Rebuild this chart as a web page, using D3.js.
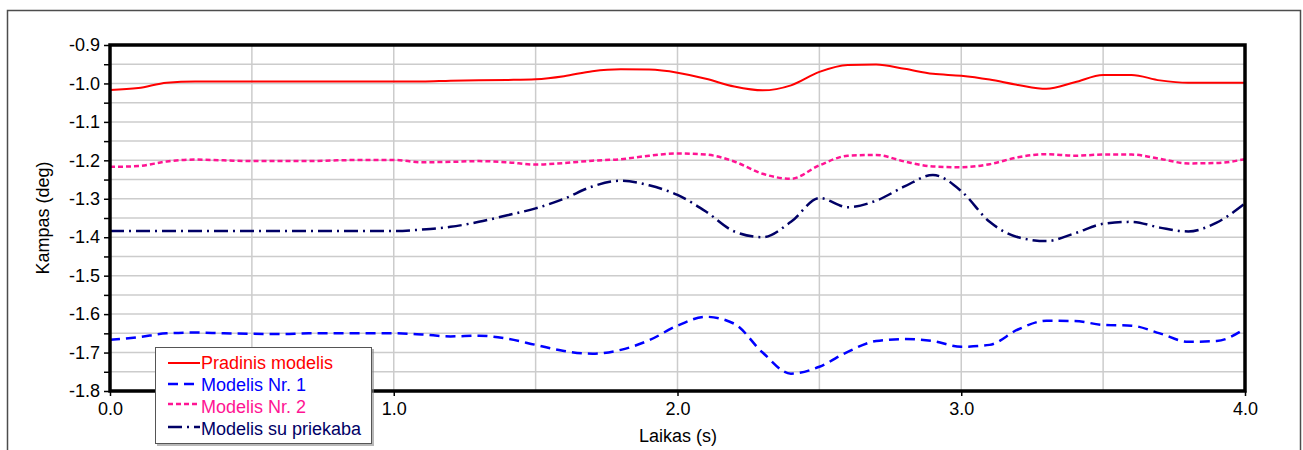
<!DOCTYPE html>
<html>
<head>
<meta charset="utf-8">
<script src="https://cdn.jsdelivr.net/npm/d3@7"></script>
<style>
  html, body { margin: 0; padding: 0; background: #fff; }
  svg { display: block; font-family: "Liberation Sans", Arial, sans-serif; }
</style>
</head>
<body>
<svg id="chart" width="1303" height="450"></svg>
<script>
// Sample times (s)
const times = d3.range(0, 41).map(i => +(i * 0.1).toFixed(1));

// Heading angle per model (deg)
const pradinis = [-1.017, -1.012, -0.998, -0.995, -0.995, -0.995, -0.995, -0.995, -0.995, -0.995,
  -0.995, -0.995, -0.993, -0.992, -0.991, -0.989, -0.981, -0.968, -0.963, -0.964,
  -0.972, -0.988, -1.008, -1.018, -1.005, -0.970, -0.952, -0.951, -0.962, -0.975,
  -0.980, -0.990, -1.004, -1.014, -0.997, -0.978, -0.978, -0.992, -0.998, -0.998, -0.998];

const modelis1 = [-1.667, -1.660, -1.650, -1.648, -1.650, -1.651, -1.652, -1.650, -1.650, -1.650,
  -1.650, -1.653, -1.658, -1.656, -1.664, -1.680, -1.696, -1.703, -1.693, -1.668,
  -1.630, -1.607, -1.625, -1.700, -1.755, -1.737, -1.698, -1.670, -1.665, -1.670,
  -1.685, -1.680, -1.640, -1.617, -1.618, -1.628, -1.630, -1.650, -1.672, -1.670, -1.638];

const modelis2 = [-1.217, -1.215, -1.203, -1.198, -1.200, -1.202, -1.202, -1.202, -1.200, -1.199,
  -1.199, -1.205, -1.204, -1.202, -1.205, -1.211, -1.207, -1.201, -1.197, -1.188,
  -1.182, -1.185, -1.203, -1.235, -1.248, -1.213, -1.188, -1.186, -1.203, -1.216,
  -1.218, -1.210, -1.192, -1.184, -1.188, -1.185, -1.185, -1.196, -1.208, -1.207, -1.197];

const suPriekaba = [-1.384, -1.384, -1.384, -1.384, -1.384, -1.384, -1.384, -1.384, -1.384, -1.384,
  -1.384, -1.380, -1.373, -1.360, -1.343, -1.325, -1.300, -1.268, -1.253, -1.265,
  -1.290, -1.333, -1.385, -1.400, -1.360, -1.298, -1.322, -1.305, -1.268, -1.238,
  -1.280, -1.360, -1.400, -1.410, -1.390, -1.365, -1.360, -1.375, -1.385, -1.362, -1.312];

const seriesNames = ["Pradinis modelis", "Modelis Nr. 1", "Modelis Nr. 2", "Modelis su priekaba"];
const yTicks = [-0.9, -1.0, -1.1, -1.2, -1.3, -1.4, -1.5, -1.6, -1.7, -1.8];
const xTicks = [0.0, 1.0, 2.0, 3.0, 4.0];

const series = [
  { name: seriesNames[0], values: pradinis,   color: "#ff0000", dash: null,       width: 2 },
  { name: seriesNames[1], values: modelis1,   color: "#0000ff", dash: "10,6",     width: 2.5 },
  { name: seriesNames[2], values: modelis2,   color: "#ff1493", dash: "5,3",      width: 2.5 },
  { name: seriesNames[3], values: suPriekaba, color: "#000066", dash: "14,5,2,5", width: 2.5 }
];

const FONT = 18;
const svg = d3.select("#chart");
const plotL = 110, plotR = 1245, plotT = 45, plotB = 391;

// Outer frame
svg.append("rect")
  .attr("x", 7.5).attr("y", 10.5).attr("width", 1293).attr("height", 460)
  .attr("fill", "none").attr("stroke", "#4d4d4d").attr("stroke-width", 1.5);

const x = d3.scaleLinear().domain([0, 4]).range([plotL, plotR]);
const y = d3.scaleLinear().domain([-1.8, -0.9]).range([plotB, plotT]);

// Grid: horizontal every 0.05 deg, vertical every 0.5 s
const g = svg.append("g");
g.selectAll("line.h").data(d3.range(1, 18).map(i => -1.8 + i * 0.05))
  .join("line").attr("class", "h")
  .attr("x1", plotL).attr("x2", plotR)
  .attr("y1", d => y(d)).attr("y2", d => y(d))
  .attr("stroke", "#cccccc").attr("stroke-width", 1.5);
g.selectAll("line.v").data(d3.range(1, 8).map(i => i * 0.5))
  .join("line").attr("class", "v")
  .attr("y1", plotT).attr("y2", plotB)
  .attr("x1", d => x(d)).attr("x2", d => x(d))
  .attr("stroke", "#cccccc").attr("stroke-width", 1.5);

// Y axis: labelled ticks every 0.1, minor ticks in between
const yTickVals = d3.range(0, 19).map(i => -1.8 + i * 0.05);
const yAxis = d3.axisLeft(y).tickValues(yTickVals)
  .tickFormat(d => {
    const r = Math.round(d * 20);
    return r % 2 === 0 ? (Math.round(d * 10) / 10).toFixed(1) : "";
  })
  .tickSize(6).tickPadding(4);
const ya = svg.append("g").attr("transform", `translate(${plotL},0)`).call(yAxis);
ya.select(".domain").remove();
ya.selectAll("line").attr("stroke", "#000").attr("stroke-width", 1.5);
ya.selectAll("text").attr("font-size", FONT).attr("fill", "#000")
  .attr("font-family", "Liberation Sans, Arial, sans-serif");

const xAxis = d3.axisBottom(x).tickValues(xTicks)
  .tickFormat(d3.format(".1f")).tickSize(5).tickPadding(6);
const xa = svg.append("g").attr("transform", `translate(0,${plotB})`).call(xAxis);
xa.select(".domain").remove();
xa.selectAll("line").attr("stroke", "#000").attr("stroke-width", 1.5);
xa.selectAll("text").attr("font-size", FONT).attr("fill", "#000")
  .attr("font-family", "Liberation Sans, Arial, sans-serif");

// Series lines
const line = d3.line().x((d, i) => x(times[i])).y(d => y(d)).curve(d3.curveMonotoneX);
svg.append("clipPath").attr("id", "plotclip")
  .append("rect").attr("x", plotL).attr("y", plotT).attr("width", plotR - plotL).attr("height", plotB - plotT);
svg.append("g").attr("clip-path", "url(#plotclip)")
  .selectAll("path").data(series).join("path")
  .attr("d", d => line(d.values))
  .attr("fill", "none")
  .attr("stroke", d => d.color)
  .attr("stroke-width", d => d.width)
  .attr("stroke-dasharray", d => d.dash);

// Plot frame
svg.append("rect")
  .attr("x", plotL).attr("y", plotT).attr("width", plotR - plotL).attr("height", plotB - plotT)
  .attr("fill", "none").attr("stroke", "#000").attr("stroke-width", 3.5);

// Axis titles
svg.append("text").attr("x", 678).attr("y", 442)
  .attr("text-anchor", "middle").attr("font-size", FONT).text("Laikas (s)");
svg.append("text").attr("transform", `translate(49,${(plotT + plotB) / 2}) rotate(-90)`)
  .attr("text-anchor", "middle").attr("font-size", FONT).text("Kampas (deg)");

// Legend
const lg = svg.append("g");
lg.append("rect").attr("x", 157).attr("y", 349).attr("width", 217).attr("height", 97)
  .attr("fill", "#888").attr("opacity", 0.6);
lg.append("rect").attr("x", 155.5).attr("y", 347.5).attr("width", 216).attr("height", 96)
  .attr("fill", "#fff").attr("stroke", "#555").attr("stroke-width", 1);
const rowY = [363, 384, 404, 427];
series.forEach((s, i) => {
  lg.append("line").attr("x1", 168).attr("x2", 200).attr("y1", rowY[i]).attr("y2", rowY[i])
    .attr("stroke", s.color).attr("stroke-width", s.width)
    .attr("stroke-dasharray", s.dash);
  lg.append("text").attr("x", 201).attr("y", 369 + i * 22)
    .attr("font-size", FONT).attr("fill", s.color).text(s.name);
});
</script>
</body>
</html>
